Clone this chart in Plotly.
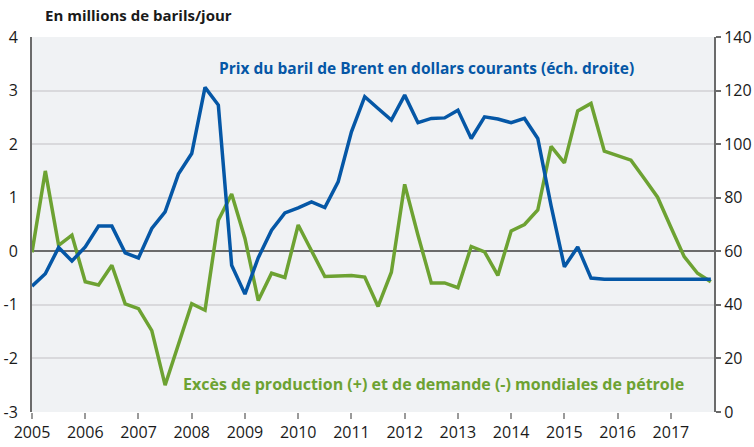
import plotly.graph_objects as go
import pandas as pd

# trimestres 2005T1 .. 2017T4
trimestres = pd.period_range("2005Q1", "2017Q4", freq="Q")

# Excès de production (+) / de demande (-), en Mb/j (éch. gauche)
exces = [-0.02, 1.50, 0.11, 0.30, -0.57, -0.63, -0.26, -0.98, -1.07, -1.48,
         -2.50, -1.76, -0.98, -1.10, 0.58, 1.07, 0.24, -0.92, -0.41, -0.49,
         0.49, 0.01, -0.47, -0.46, -0.45, -0.48, -1.03, -0.39, 1.25, 0.30,
         -0.59, -0.59, -0.68, 0.09, -0.01, -0.45, 0.38, 0.50, 0.77, 1.96,
         1.65, 2.62, 2.76, 1.87, 1.79, 1.70, 1.36, 1.01, 0.45, -0.10,
         -0.41, -0.57]

# Prix du Brent, dollars courants (éch. droite)
brent = [47.0, 51.6, 61.4, 56.4, 61.6, 69.4, 69.4, 59.4, 57.5, 68.5,
         74.7, 88.8, 96.5, 121.2, 114.6, 54.8, 44.0, 57.6, 67.9, 74.3,
         76.2, 78.4, 76.3, 85.9, 104.6, 117.7, 113.3, 109.0, 118.3, 108.0,
         109.6, 109.8, 112.7, 102.1, 110.2, 109.4, 108.0, 109.6, 102.1, 77.0,
         54.2, 61.6, 50.0, 49.6, 49.6, 49.6, 49.6, 49.6, 49.6, 49.6,
         49.6, 49.6]

annees = list(range(2005, 2018))
ticks_gauche = [-3, -2, -1, 0, 1, 2, 3, 4]
ticks_droite = [0, 20, 40, 60, 80, 100, 120, 140]

BLEU = "#0557a6"
VERT = "#6da232"
GRIS = "#6b6b6b"
FONT = "Open Sans"

x = [p.year + (p.quarter - 1) / 4 for p in trimestres]

fig = go.Figure()
fig.add_trace(go.Scatter(x=x, y=exces, mode="lines", line=dict(color=VERT, width=3.5),
                         yaxis="y", showlegend=False))
fig.add_trace(go.Scatter(x=x, y=brent, mode="lines", line=dict(color=BLEU, width=3.5),
                         yaxis="y2", showlegend=False))

fig.update_layout(
    width=754, height=447,
    margin=dict(l=32, r=40, t=37, b=35),
    paper_bgcolor="white",
    plot_bgcolor="#f0f2f4",
    font=dict(family=FONT, size=16, color="#1a1a1a"),
    xaxis=dict(range=[2005, 2017.81], tickvals=annees, ticktext=[str(a) for a in annees],
               showgrid=False, zeroline=False, showline=False, automargin=False,
               ticks="outside", ticklen=6, tickwidth=1.5, tickcolor="#9a9a9a"),
    yaxis=dict(range=[-3, 4], tickvals=ticks_gauche, ticktext=[str(v) for v in ticks_gauche],
               showgrid=True, gridcolor="#d9d9dc", gridwidth=1.5,
               zeroline=True, zerolinecolor=GRIS, zerolinewidth=2,
               showline=True, linecolor=GRIS, linewidth=2, automargin=False,
               ticks="outside", ticklen=9, tickcolor="rgba(0,0,0,0)"),
    yaxis2=dict(range=[0, 140], tickvals=ticks_droite, overlaying="y", side="right",
                showgrid=False, zeroline=False, automargin=False,
                showline=True, linecolor=GRIS, linewidth=2,
                ticks="outside", ticklen=5, tickwidth=1.5, tickcolor=GRIS,
                tickfont=dict(size=16)),
)

fig.add_annotation(text="<b>En millions de barils/jour</b>", xref="paper", yref="paper",
                   x=0.016, y=1.059, xanchor="left", yanchor="middle", showarrow=False,
                   font=dict(size=15, color="#1a1a1a"))
fig.add_annotation(text="<b>Prix du baril de Brent en dollars courants (éch. droite)</b>",
                   x=2008.48, y=3.42, xanchor="left", yanchor="middle", showarrow=False,
                   font=dict(size=15.5, color=BLEU))
fig.add_annotation(text="<b>Excès de production (+) et de demande (-) mondiales de pétrole</b>",
                   x=2007.80, y=-2.47, xanchor="left", yanchor="middle", showarrow=False,
                   font=dict(size=16, color=VERT))

# drop the browser's default 8px body margin so the figure fills the window
fig.write_html("out.html", config={"displayModeBar": False},
               post_script="document.body.style.margin='0';")
